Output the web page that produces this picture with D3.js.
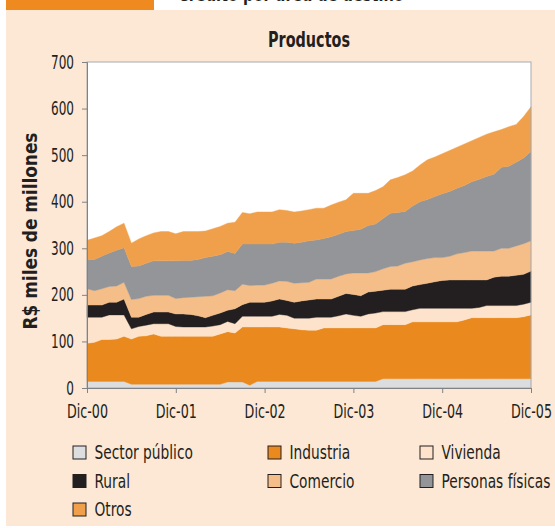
<!DOCTYPE html>
<html><head><meta charset="utf-8">
<script src="https://cdn.jsdelivr.net/npm/d3@7"></script>
<style>
html,body{margin:0;padding:0;background:#fff;}
svg{display:block;}
text{font-family:"DejaVu Sans Condensed","DejaVu Sans",sans-serif;fill:#231f20;}
</style></head>
<body><svg id="c" width="555" height="528"></svg>
<script>
const tickLabels = ["Dic-00","Dic-01","Dic-02","Dic-03","Dic-04","Dic-05"];
const seriesNames = ["Sector público","Industria","Vivienda","Rural","Comercio","Personas físicas","Otros"];
// monthly values, Dic-00 .. Dic-05 (R$ miles de millones)
const sectorPublico = [14,14,14,14,14,14,8,8,8,8,8,8,8,8,8,8,8,8,8,13,13,13,6,14,14,14,14,14,14,14,14,14,14,14,14,14,14,14,14,14,20,20,20,20,20,20,20,20,20,20,20,20,20,20,20,20,20,20,20,20,20];
const industria = [82,84,90,90,91,97,97,103,104,108,103,103,103,103,103,103,103,103,108,108,105,118,125,117,117,117,117,115,113,111,110,110,115,115,115,115,115,115,115,115,116,116,116,116,122,122,122,122,122,122,122,126,131,131,131,131,131,131,131,133,137];
const vivienda = [56,54,48,53,52,46,22,21,23,22,27,27,21,20,20,20,20,22,20,22,20,23,23,23,23,23,27,27,23,25,26,28,23,23,26,30,27,25,30,32,28,28,28,28,26,29,29,29,29,29,29,25,20,22,26,26,26,26,26,27,27];
const rural = [26,26,26,27,27,34,25,20,23,25,25,25,27,28,27,24,20,23,25,24,32,25,30,30,30,33,33,32,34,37,39,39,39,39,42,44,45,44,47,47,46,48,48,48,51,51,54,57,60,61,61,61,61,59,55,61,63,63,65,64,67];
const comercio = [35,31,35,34,35,36,38,40,39,36,36,36,33,35,37,41,46,42,43,44,39,44,36,37,37,38,39,41,41,39,38,43,43,43,43,42,46,49,41,42,46,49,50,56,52,53,53,52,49,51,56,59,62,62,62,56,60,60,63,66,65];
const personas = [63,67,70,72,77,74,71,70,71,74,74,74,81,80,79,80,83,85,82,82,80,86,89,88,88,84,83,84,86,87,89,84,87,91,90,91,91,94,102,102,108,114,115,111,120,125,127,131,137,139,141,144,149,154,160,165,174,176,180,184,192];
const otros = [41,46,44,46,50,53,50,58,59,60,63,63,58,62,62,60,57,59,61,61,67,68,65,69,69,69,70,68,67,67,67,68,65,68,69,68,80,77,69,72,68,72,75,79,75,79,85,85,86,88,88,89,88,90,91,91,81,85,81,89,96];
const yTicks = [0,100,200,300,400,500,600,700];

const colors = ["#dcddde","#ea891d","#fde3cb","#231f20","#f5bd87","#939598","#f0a04b"];
const seriesArrays = [sectorPublico,industria,vivienda,rural,comercio,personas,otros];
const keys = d3.range(seriesNames.length);
const rows = d3.range(sectorPublico.length).map(i => {
  const r = {m:i}; keys.forEach(k => r[k] = seriesArrays[k][i]); return r;
});

// condense text horizontally (the original uses a condensed typeface)
function condense(sel, sx){
  sel.each(function(){
    const x = +(this.getAttribute("x")||0), y = +(this.getAttribute("y")||0);
    const t = this.getAttribute("transform") || "";
    this.setAttribute("x",0); this.setAttribute("y",0);
    this.setAttribute("transform", `${t} translate(${x},${y}) scale(${sx},1)`);
  });
}
function factorFor(node, target){ return target / node.getComputedTextLength(); }

const svg = d3.select("#c");
// page decoration
svg.append("rect").attr("x",6).attr("y",10).attr("width",549).attr("height",516).attr("fill","#fde8d5");
svg.append("rect").attr("x",6).attr("y",0).attr("width",148).attr("height",10).attr("fill","#ee8a1f");
const head = svg.append("text").attr("x",178).attr("y",1).attr("font-size",19).attr("font-weight","bold").text("Crédito por área de destino");
condense(head, 0.85);

const L=87,R=531,T=62,B=388;
const x = d3.scaleLinear().domain([0,60]).range([L,R]);
const y = d3.scaleLinear().domain([0,700]).range([B,T]);

svg.append("rect").attr("x",L).attr("y",T).attr("width",R-L).attr("height",B-T).attr("fill","#fff");

const stack = d3.stack().keys(keys)(rows);
const area = d3.area().x(d=>x(d.data.m)).y0(d=>y(d[0])).y1(d=>y(d[1]));
svg.append("g").selectAll("path").data(stack).join("path")
  .attr("d",area).attr("fill",(d,i)=>colors[i]).attr("stroke",(d,i)=>colors[i]).attr("stroke-width",0.4);

svg.append("rect").attr("x",L).attr("y",T).attr("width",R-L).attr("height",B-T)
  .attr("fill","none").attr("stroke","#a7a9ac").attr("stroke-width",1);

const ya = svg.append("g").attr("transform",`translate(${L},0)`)
  .call(d3.axisLeft(y).tickValues(yTicks).tickSize(5).tickPadding(8));
const xa = svg.append("g").attr("transform",`translate(0,${B})`)
  .call(d3.axisBottom(x).tickValues([0,12,24,36,48,60]).tickFormat((d,i)=>tickLabels[i]).tickSize(5).tickPadding(11));
[ya,xa].forEach(g=>{
  g.select(".domain").attr("stroke","#808285");
  g.selectAll(".tick line").attr("stroke","#808285");
  g.selectAll(".tick text").attr("font-size",19).attr("fill","#231f20")
   .attr("font-family",'"DejaVu Sans Condensed","DejaVu Sans",sans-serif');
});
condense(xa.selectAll(".tick text"), factorFor(xa.select(".tick text").node(), 41));
condense(ya.selectAll(".tick text"), factorFor(ya.selectAll(".tick text").nodes()[1], 23));

const title = svg.append("text").attr("x",309).attr("y",47).attr("text-anchor","middle")
  .attr("font-size",21).attr("font-weight","bold").text("Productos");
condense(title, factorFor(title.node(), 82));
const ylab = svg.append("text").attr("transform","translate(37,231) rotate(-90)").attr("text-anchor","middle")
  .attr("font-size",20).attr("font-weight","bold").text("R$ miles de millones");
condense(ylab, factorFor(ylab.node(), 197));

const legX=[73,268,420], legY=[452.5,481,509.5];
const leg = svg.append("g");
const legTexts = [];
seriesNames.forEach((n,i)=>{
  const cx=legX[i%3], cy=legY[Math.floor(i/3)];
  leg.append("rect").attr("x",cx).attr("y",cy-6.5).attr("width",13).attr("height",13)
    .attr("fill",colors[i]).attr("stroke","#231f20").attr("stroke-width",1);
  legTexts.push(leg.append("text").attr("x",cx+21.5).attr("y",cy+6.5).attr("font-size",20).text(n).node());
});
condense(d3.selectAll(legTexts), factorFor(legTexts[5], 109));
</script></body></html>
